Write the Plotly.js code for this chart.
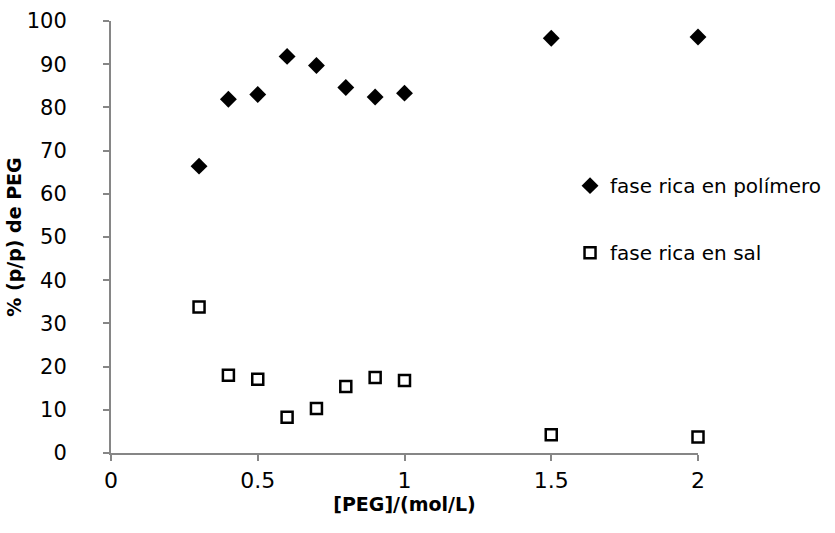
<!DOCTYPE html>
<html><head><meta charset="utf-8">
<script src="https://cdn.plot.ly/plotly-3.0.1.min.js"></script>
<style>html,body{margin:0;padding:0;background:#fff}#c{width:835px;height:533px}</style>
</head><body><div id="c"></div>
<script>
const conc = [0.3, 0.4, 0.5, 0.6, 0.7, 0.8, 0.9, 1.0, 1.5, 2.0];
const polimero = [66.4, 81.9, 83.0, 91.8, 89.7, 84.6, 82.4, 83.3, 96.0, 96.3];
const sal = [33.8, 18.0, 17.1, 8.3, 10.3, 15.4, 17.5, 16.8, 4.2, 3.7];
const names = ["fase rica en polímero", "fase rica en sal"];
const FONT = "'DejaVu Sans', sans-serif";
const traces = [
  {x: conc, y: polimero, type: 'scatter', mode: 'markers', name: names[0], legendgroup: 'a',
   marker: {symbol: 'diamond', size: 13, color: '#000'}, cliponaxis: false},
  {x: conc, y: sal, type: 'scatter', mode: 'markers', name: names[1], legendgroup: 'b',
   marker: {symbol: 'square-open', size: 11, color: '#000', line: {width: 2.5, color: '#000'}}, cliponaxis: false}
];
const layout = {
  width: 835, height: 533,
  margin: {l: 111, r: 137, t: 21, b: 80, autoexpand: false},
  paper_bgcolor: '#fff', plot_bgcolor: '#fff',
  font: {family: FONT, size: 18, color: '#000'},
  showlegend: true,
  legend: {x: 0.782, xanchor: 'left', y: 0.664, yanchor: 'top', traceorder: 'grouped', tracegroupgap: 38,
           font: {size: 20, family: FONT}, itemwidth: 30, bgcolor: 'rgba(0,0,0,0)'},
  xaxis: {range: [0, 2], dtick: 0.5, tick0: 0, showgrid: false, zeroline: false, automargin: false,
          showline: true, linecolor: '#868686', linewidth: 2, ticks: 'outside', ticklen: 6,
          tickcolor: '#868686', tickwidth: 2, tickfont: {size: 22}, ticklabelstandoff: 1,
          title: {text: '<b>[PEG]/(mol/L)</b>', font: {size: 19}, standoff: 0}},
  yaxis: {range: [0, 100], dtick: 10, showgrid: false, zeroline: false, automargin: false,
          showline: true, linecolor: '#868686', linewidth: 2, ticks: 'outside', ticklen: 6,
          tickcolor: '#868686', tickwidth: 2, tickfont: {size: 21}, ticklabelstandoff: 32,
          title: {text: '<b>% (p/p) de PEG</b>', font: {size: 19}, standoff: 0}}
};
Plotly.newPlot('c', traces, layout, {displayModeBar: false, staticPlot: true});
</script></body></html>
